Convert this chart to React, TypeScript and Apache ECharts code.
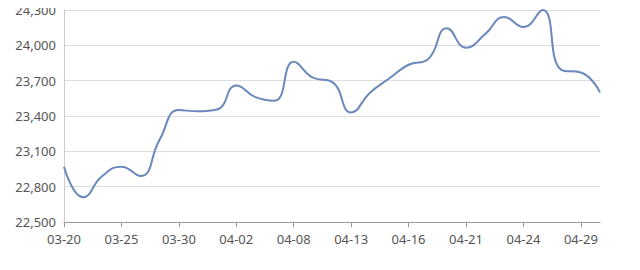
import React, { useEffect, useRef } from "react";
import * as echarts from "echarts";

const dates = [
  "03-20", "03-22", "03-23", "03-25", "03-27", "03-29", "03-30", "03-31", "04-01", "04-02",
  "04-04", "04-06", "04-08", "04-10", "04-12", "04-13", "04-14", "04-15", "04-16", "04-18",
  "04-20", "04-21", "04-22", "04-23", "04-24", "04-26", "04-28", "04-29", "04-30",
];
const prices = [
  22970, 22710, 22890, 22970, 22890, 23200, 23450, 23440, 23455, 23660,
  23560, 23530, 23860, 23725, 23690, 23430, 23600, 23720, 23835, 23880,
  24145, 23980, 24095, 24240, 24155, 24300, 23790, 23770, 23600,
];
const yTicks = { min: 22500, max: 24300, interval: 300 };

export default function App() {
  const ref = useRef<HTMLDivElement>(null);
  useEffect(() => {
    if (!ref.current) return;
    const chart = echarts.init(ref.current, null, { renderer: "svg" });
    chart.setOption({
      animation: false,
      grid: { left: 64, right: 40, top: 10, bottom: 48 },
      xAxis: {
        type: "category",
        data: dates,
        boundaryGap: false,
        axisLine: { lineStyle: { color: "#999" } },
        axisTick: { interval: 2, length: 5, lineStyle: { color: "#999" } },
        axisLabel: {
          interval: 2,
          color: "#555",
          fontSize: 13,
          margin: 10,
          fontFamily: "Noto Sans",
        },
        splitLine: { show: false },
      },
      yAxis: {
        type: "value",
        min: yTicks.min,
        max: yTicks.max,
        interval: yTicks.interval,
        axisLine: { show: true, lineStyle: { color: "#ccc" } },
        axisTick: { show: false },
        axisLabel: {
          color: "#555",
          fontSize: 13,
          margin: 8,
          fontFamily: "Noto Sans",
          formatter: (v: number) => v.toLocaleString("en-US"),
        },
        splitLine: { lineStyle: { color: "#ddd" } },
      },
      series: [
        {
          type: "line",
          data: prices,
          smooth: true,
          symbol: "none",
          lineStyle: { color: "#6a88bd", width: 2 },
        },
      ],
    });
    return () => chart.dispose();
  }, []);
  return <div ref={ref} style={{ width: 640, height: 270, margin: -8 }} />;
}
